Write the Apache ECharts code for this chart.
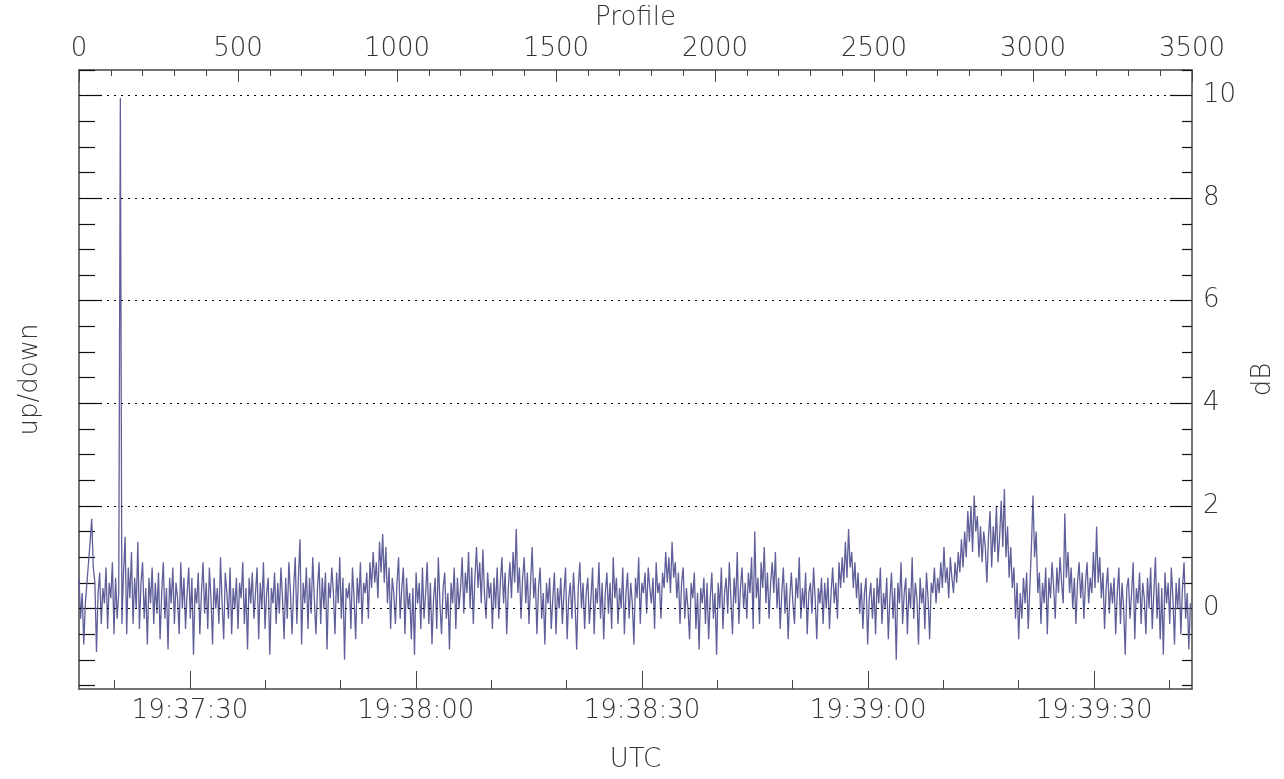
<!DOCTYPE html>
<html>
<head>
<meta charset="utf-8">
<script src="https://cdn.jsdelivr.net/npm/echarts@6/dist/echarts.min.js"></script>
<style>
html,body{margin:0;padding:0;background:#fff;}
#chart{width:1284px;height:779px;}
</style>
</head>
<body>
<div id="chart"></div>
<script>
// ---- data ----
const PROFILE_STEP = 5;            // profiles between samples
const PROFILE_MIN = 0, PROFILE_MAX = 3500;
const PROFILE_TICKS = [0, 500, 1000, 1500, 2000, 2500, 3000, 3500];

// seconds after 19:37:00 covered by the plot
const TIME_START = 15.27, TIME_END = 163.0;
const TIME_MAJOR = [30, 60, 90, 120, 150];
const TIME_LABELS = ['19:37:30', '19:38:00', '19:38:30', '19:39:00', '19:39:30'];
const TIME_MINOR = [20, 40, 50, 70, 80, 100, 110, 130, 140, 160];

const DB_MIN = -1.57, DB_MAX = 10.5;
const DB_MAJOR = [0, 2, 4, 6, 8, 10];
const DB_MINOR = [-1.5, -1, -0.5, 0.5, 1, 1.5, 2.5, 3, 3.5, 4.5, 5, 5.5, 6.5, 7, 7.5, 8.5, 9, 9.5, 10.5];

// up/down ratio in dB, one value every PROFILE_STEP profiles
const values = [
  0.6,-0.2,0.3,-0.7,0.1,0.5,0.9,1.3,1.75,0.8,
  0.5,-0.85,0.3,0.7,-0.3,0.4,0.1,0.8,-0.4,0.5,
  0.2,0.9,-0.5,0.6,-0.2,0.3,9.95,-0.3,0.7,1.4,
  -0.5,0.8,0.2,1.1,-0.3,0.6,0.0,1.3,-0.4,0.5,
  0.9,-0.2,0.4,-0.7,0.6,0.1,0.8,-0.3,0.5,-0.1,
  0.7,-0.6,0.3,0.9,-0.2,0.4,-0.8,0.6,0.1,0.8,
  -0.3,0.5,0.2,-0.5,0.9,0.0,0.6,-0.4,0.3,0.8,
  -0.2,0.6,-0.9,0.4,0.1,0.7,-0.5,0.3,0.9,-0.1,
  0.5,-0.4,0.8,0.2,-0.7,0.6,0.0,0.4,-0.3,1.0,
  0.1,-0.6,0.7,0.3,-0.2,0.8,-0.5,0.4,0.0,0.6,
  -0.4,0.5,0.2,0.9,-0.3,0.4,-0.8,0.6,0.1,0.7,
  -0.2,0.3,0.8,-0.6,0.5,0.0,0.9,-0.4,0.3,0.6,
  -0.9,0.4,0.1,0.7,-0.3,0.5,-0.1,0.8,0.2,-0.6,
  0.6,-0.2,0.9,0.3,-0.5,0.4,1.0,-0.3,0.6,1.35,
  -0.7,0.5,0.1,0.8,-0.4,0.6,-0.1,1.0,0.2,-0.5,
  0.4,0.9,-0.3,0.6,0.0,0.7,-0.8,0.5,0.2,0.8,
  0.3,-0.5,0.7,0.1,1.0,-0.2,0.6,-1.0,0.4,0.2,
  0.5,-0.4,0.8,0.2,-0.6,0.6,0.1,0.9,-0.3,0.5,
  0.3,0.7,-0.2,0.9,0.4,1.1,0.5,0.9,0.2,1.3,
  0.7,1.45,0.5,1.2,0.1,0.8,-0.4,0.6,0.3,-0.3,
  0.5,1.0,-0.2,0.4,0.8,-0.5,0.6,0.0,0.3,-0.6,
  0.4,-0.9,0.7,0.1,0.5,-0.4,0.8,-0.2,0.3,0.9,
  -0.3,0.5,-0.7,0.2,0.6,-0.4,1.0,0.1,-0.5,0.4,
  0.7,-0.2,0.3,-0.8,0.5,0.1,0.8,-0.4,0.6,0.0,
  0.4,1.0,-0.1,0.7,0.3,1.1,0.0,0.8,-0.3,0.6,
  1.2,0.4,0.9,0.1,1.15,0.3,-0.2,0.7,0.2,0.5,
  -0.4,0.6,0.0,0.8,-0.2,0.5,1.0,0.1,0.7,-0.5,
  0.4,0.9,0.2,1.1,0.5,1.55,0.3,0.8,-0.2,0.6,
  1.0,0.1,0.7,-0.3,0.5,1.2,0.2,0.6,-0.5,0.4,
  0.8,-0.2,0.3,-0.7,0.5,0.1,0.6,-0.4,0.2,0.7,
  -0.5,0.4,0.0,0.6,-0.3,0.3,0.8,-0.6,0.2,0.5,
  -0.2,0.7,0.1,-0.8,0.4,0.9,0.0,0.5,-0.4,0.3,
  0.6,-0.3,0.2,0.8,-0.5,0.4,0.1,0.9,-0.2,0.5,
  -0.6,0.3,0.7,-0.1,0.5,-0.4,1.0,0.2,0.6,-0.3,
  0.4,0.0,0.8,-0.5,0.3,0.7,-0.2,0.5,0.1,-0.7,
  0.6,0.2,1.0,-0.3,0.5,0.3,0.7,-0.1,0.8,0.4,
  0.1,0.6,-0.4,0.9,0.3,0.5,-0.2,0.7,0.4,1.1,
  0.5,1.0,0.3,1.3,0.6,0.9,0.2,0.7,-0.3,0.5,
  0.8,-0.2,0.4,0.0,-0.6,0.5,0.2,0.7,-0.4,0.3,
  -0.8,0.4,0.1,0.6,-0.3,0.5,-0.6,0.2,0.7,-0.2,
  0.3,-0.9,0.5,0.0,0.8,-0.4,0.3,0.6,-0.1,0.9,
  0.2,-0.5,0.6,0.1,1.1,-0.3,0.4,0.8,0.0,0.5,
  -0.2,0.7,0.3,1.0,-0.4,1.5,0.2,0.6,-0.3,0.9,
  0.4,1.2,0.1,0.7,-0.2,0.5,0.9,0.3,1.1,0.0,
  0.6,-0.4,0.3,0.8,-0.1,0.5,-0.6,0.2,0.7,0.1,
  -0.3,0.6,0.2,1.0,-0.2,0.4,0.0,0.7,-0.5,0.3,
  0.5,-0.1,0.8,0.2,-0.6,0.4,0.1,0.6,-0.3,0.5,
  0.0,0.6,-0.4,0.3,0.8,0.1,0.5,-0.2,0.9,0.4,
  1.0,0.5,1.3,0.6,1.55,0.8,1.1,0.4,0.9,0.2,
  0.7,-0.1,0.5,-0.4,0.3,0.6,-0.7,0.2,0.5,-0.2,
  0.4,-0.5,0.6,0.1,0.8,-0.3,0.3,0.0,0.6,-0.6,
  0.2,0.7,-0.2,0.4,-1.0,0.5,0.1,0.9,-0.3,0.3,
  0.6,-0.5,0.4,0.0,1.0,-0.2,0.5,0.2,-0.7,0.6,
  0.1,0.4,-0.4,0.7,0.2,-0.6,0.5,0.3,0.8,0.1,
  0.6,0.3,0.9,0.4,1.2,0.5,0.8,0.2,1.0,0.6,
  0.3,0.9,0.5,1.1,0.7,1.35,0.8,1.5,1.0,1.9,
  1.3,2.0,1.1,2.2,1.5,1.8,1.0,1.6,0.9,1.5,
  1.2,0.5,1.4,1.9,0.8,1.6,1.1,2.0,0.9,1.4,
  2.1,1.2,2.33,1.0,1.6,0.6,1.2,0.4,0.8,-0.2,
  0.5,-0.6,0.3,-0.2,0.6,0.1,0.7,-0.4,0.4,1.2,
  2.2,1.0,1.5,0.3,0.7,-0.3,0.5,0.1,0.8,-0.5,
  0.6,0.2,0.9,0.4,-0.2,0.8,0.3,1.0,0.5,0.1,
  1.85,0.6,1.1,0.3,0.8,0.0,0.6,-0.3,0.5,0.9,
  0.2,0.7,-0.2,0.5,0.9,0.1,0.6,0.3,1.1,0.4,
  1.6,0.5,1.0,0.2,0.7,-0.4,0.4,0.8,-0.1,0.5,
  0.1,0.6,-0.5,0.3,0.8,-0.3,0.5,0.0,-0.9,0.4,
  0.6,-0.2,0.3,0.9,-0.6,0.4,0.1,0.7,-0.3,0.5,
  0.2,-0.5,0.6,0.0,0.8,-0.4,0.3,1.0,-0.2,0.5,
  -0.6,0.4,-0.9,0.7,0.1,0.5,-0.3,0.8,0.2,-0.7,
  0.5,0.0,0.6,-0.5,0.4,0.9,-0.2,0.3,-0.8,0.1
];

// ---- styling ----
const FONT = 'DejaVu Sans';
const TXT = '#333';
const AX = '#444';
const FS = 26;

const seriesData = values.map((v, i) => [i * PROFILE_STEP, v]);

const chart = echarts.init(document.getElementById('chart'), null, {renderer: 'canvas'});

const textStyle = {fontFamily: FONT, fontSize: FS, color: TXT, fontWeight: 200};

const option = {
  animation: false,
  backgroundColor: '#fff',
  grid: {left: 79, right: 92, top: 67, bottom: 90, containLabel: false},
  xAxis: [
    { // Profile (top)
      type: 'value', position: 'top', min: PROFILE_MIN, max: PROFILE_MAX, interval: 500,
      name: 'Profile', nameLocation: 'middle', nameGap: 36,
      nameTextStyle: textStyle,
      axisLine: {show: true, onZero: false, lineStyle: {color: AX, width: 1.5}},
      axisTick: {show: true, inside: true, length: 12, lineStyle: {color: AX, width: 1}},
      minorTick: {show: true, splitNumber: 5, length: 6, lineStyle: {color: AX, width: 1}},
      axisLabel: Object.assign({margin: 8, formatter: v => String(v)}, textStyle),
      splitLine: {show: false}
    },
    { // UTC major (bottom)
      type: 'value', position: 'bottom', min: TIME_START, max: TIME_END,
      name: 'UTC', nameLocation: 'middle', nameGap: 58,
      nameTextStyle: textStyle,
      axisLine: {show: true, onZero: false, lineStyle: {color: AX, width: 1.5}},
      axisTick: {show: true, inside: true, length: 18, customValues: TIME_MAJOR, lineStyle: {color: AX, width: 1}},
      axisLabel: Object.assign({margin: 9, customValues: TIME_MAJOR,
        formatter: v => TIME_LABELS[TIME_MAJOR.indexOf(Math.round(v))] || ''}, textStyle),
      splitLine: {show: false}
    },
    { // UTC minor ticks
      type: 'value', position: 'bottom', min: TIME_START, max: TIME_END,
      axisLine: {show: false, onZero: false},
      axisTick: {show: true, inside: true, length: 9, customValues: TIME_MINOR, lineStyle: {color: AX, width: 1}},
      axisLabel: {show: false},
      splitLine: {show: false}
    }
  ],
  yAxis: [
    { // left, up/down
      type: 'value', position: 'left', min: DB_MIN, max: DB_MAX,
      name: 'up/down', nameLocation: 'middle', nameGap: 36, nameRotate: 90,
      nameTextStyle: textStyle,
      axisLine: {show: true, onZero: false, lineStyle: {color: AX, width: 1.5}},
      axisTick: {show: true, inside: true, length: 23, customValues: DB_MAJOR, lineStyle: {color: '#111', width: 1.2}},
      axisLabel: {show: false},
      splitLine: {show: false}
    },
    { // left minor
      type: 'value', position: 'left', min: DB_MIN, max: DB_MAX,
      axisLine: {show: false, onZero: false},
      axisTick: {show: true, inside: true, length: 16, customValues: DB_MINOR, lineStyle: {color: '#111', width: 1.2}},
      axisLabel: {show: false},
      splitLine: {show: false}
    },
    { // right, dB
      type: 'value', position: 'right', min: DB_MIN, max: DB_MAX,
      name: 'dB', nameLocation: 'middle', nameGap: 58, nameRotate: 90,
      nameTextStyle: textStyle,
      axisLine: {show: true, onZero: false, lineStyle: {color: AX, width: 1.5}},
      axisTick: {show: true, inside: true, length: 22, customValues: DB_MAJOR, lineStyle: {color: '#111', width: 1.2}},
      axisLabel: Object.assign({margin: 11, customValues: DB_MAJOR}, textStyle),
      splitLine: {show: false}
    },
    { // right minor
      type: 'value', position: 'right', min: DB_MIN, max: DB_MAX,
      axisLine: {show: false, onZero: false},
      axisTick: {show: true, inside: true, length: 10, customValues: DB_MINOR, lineStyle: {color: '#111', width: 1.2}},
      axisLabel: {show: false},
      splitLine: {show: false}
    }
  ],
  series: [{
    type: 'line',
    xAxisIndex: 0, yAxisIndex: 0,
    data: seriesData,
    showSymbol: false,
    symbol: 'none',
    lineStyle: {color: '#5f5f99', width: 1.3},
    silent: true,
    markLine: {
      silent: true,
      symbol: 'none',
      label: {show: false},
      lineStyle: {color: '#000', width: 1, type: [2, 5]},
      data: DB_MAJOR.map(v => ({yAxis: v}))
    }
  }]
};

chart.setOption(option);
</script>
</body>
</html>
